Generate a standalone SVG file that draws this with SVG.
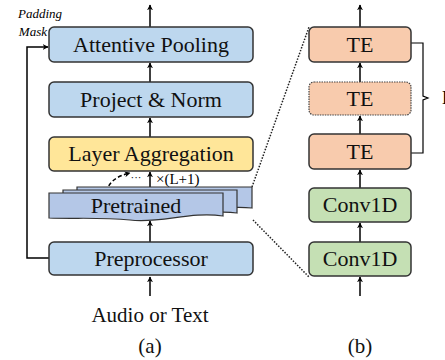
<svg xmlns="http://www.w3.org/2000/svg" width="445" height="360" viewBox="0 0 445 360">
<defs>
<style>
.box{stroke:#333;stroke-width:1.5}
.blue{fill:#bdd7ee}
.yellow{fill:#ffe699}
.pre{fill:#b4c7e7;stroke:#333;stroke-width:1.2}
.te{fill:#f8cbad}
.green{fill:#c5e0b4}
.lbl{font-family:"Liberation Serif",serif;font-size:22px;fill:#111;text-anchor:middle}
.ln{stroke:#000;stroke-width:1.5;fill:none}
.dot{stroke:#222;stroke-width:1.5;stroke-dasharray:1.5 1.5;fill:none}
</style>
<marker id="ah" viewBox="0 0 10 10" refX="9" refY="5" markerWidth="6" markerHeight="6" orient="auto-start-reverse" markerUnits="userSpaceOnUse">
<path d="M0,0 L10,5 L0,10 L3,5 z" fill="#000"/>
</marker>
</defs>
<rect width="445" height="360" fill="#fff"/>

<g id="connectors">
<line class="ln" x1="150" y1="27" x2="150" y2="5" marker-end="url(#ah)"/>
<line class="ln" x1="150" y1="82" x2="150" y2="63" marker-end="url(#ah)"/>
<line class="ln" x1="150" y1="137" x2="150" y2="118" marker-end="url(#ah)"/>
<line class="ln" x1="150" y1="187" x2="150" y2="172" marker-end="url(#ah)"/>
<line class="ln" x1="150" y1="242" x2="150" y2="221" marker-end="url(#ah)"/>
<line class="ln" x1="150" y1="296" x2="150" y2="277" marker-end="url(#ah)"/>
<polyline class="ln" points="49,258 27,258 27,47 48,47" marker-end="url(#ah)"/>
<path d="M106,192 C110,180 118,176 130,173" stroke="#000" stroke-width="1.5" stroke-dasharray="4 2.5" fill="none" marker-end="url(#ah)"/>
<line class="ln" x1="360" y1="27" x2="360" y2="5" marker-end="url(#ah)"/>
<line class="ln" x1="360" y1="82" x2="360" y2="63" marker-end="url(#ah)"/>
<line class="ln" x1="360" y1="134" x2="360" y2="116" marker-end="url(#ah)"/>
<line class="ln" x1="360" y1="188" x2="360" y2="170" marker-end="url(#ah)"/>
<line class="ln" x1="360" y1="242" x2="360" y2="223" marker-end="url(#ah)"/>
<line class="ln" x1="360" y1="296" x2="360" y2="277" marker-end="url(#ah)"/>
<line class="dot" x1="252" y1="187" x2="309" y2="27"/>
<line class="dot" x1="253" y1="220" x2="309" y2="277"/>
<path d="M411,43 H423 V96 L428,98 L423,100 V153 H411" stroke="#000" stroke-width="1.2" fill="none"/>
</g>

<g id="attentive-pooling">
<rect class="box blue" x="49" y="27" width="204" height="35" rx="5"/>
<text class="lbl" x="151" y="52">Attentive Pooling</text>
</g>
<g id="project-norm">
<rect class="box blue" x="49" y="82" width="204" height="35" rx="5"/>
<text class="lbl" x="151" y="107">Project &amp; Norm</text>
</g>
<g id="layer-aggregation">
<rect class="box yellow" x="49" y="137" width="204" height="34" rx="5"/>
<text class="lbl" x="151" y="161">Layer Aggregation</text>
</g>
<g id="pretrained">
<path class="pre" d="M77,187 H252 V208 C225,205 200,212 180,210 L77,209 Z"/>
<path class="pre" d="M63,190 H237 V213 C210,209 185,218 160,215 L63,214 Z"/>
<path class="pre" d="M49,193 H223 V216 C190,211 160,224 130,220 C100,217 75,219 49,218 Z"/>
<text class="lbl" x="136" y="213">Pretrained</text>
<text x="136" y="181" font-family="Liberation Serif,serif" font-size="11" text-anchor="middle">···</text>
<text x="156" y="184" font-family="Liberation Serif,serif" font-size="15">×(L+1)</text>
</g>
<g id="preprocessor">
<rect class="box blue" x="49" y="242" width="204" height="33" rx="5"/>
<text class="lbl" x="151" y="266">Preprocessor</text>
</g>
<g id="labels-a">
<text x="40" y="18" font-family="Liberation Serif,serif" font-size="13" font-style="italic" text-anchor="middle">Padding</text>
<text x="47" y="36" font-family="Liberation Serif,serif" font-size="13" font-style="italic" text-anchor="end">Mask</text>
<text class="lbl" x="150" y="322" style="font-size:21px">Audio or Text</text>
<text class="lbl" x="150" y="353" style="font-size:21px">(a)</text>
</g>

<g id="te-1">
<rect class="box te" x="309" y="27" width="102" height="35" rx="5"/>
<text class="lbl" x="360" y="52">TE</text>
</g>
<g id="te-2">
<rect class="te" x="309" y="82" width="102" height="33" rx="5" stroke="#444" stroke-width="1.2" stroke-dasharray="1.5 1"/>
<text class="lbl" x="360" y="106">TE</text>
</g>
<g id="te-3">
<rect class="box te" x="309" y="134" width="102" height="35" rx="5"/>
<text class="lbl" x="360" y="159">TE</text>
</g>
<g id="conv1d-1">
<rect class="box green" x="309" y="188" width="102" height="34" rx="5"/>
<text class="lbl" x="360" y="212">Conv1D</text>
</g>
<g id="conv1d-2">
<rect class="box green" x="309" y="242" width="102" height="34" rx="5"/>
<text class="lbl" x="360" y="266">Conv1D</text>
</g>
<g id="labels-b">
<text x="442" y="104" font-family="Liberation Serif,serif" font-size="18">L</text>
<text class="lbl" x="360" y="353" style="font-size:21px">(b)</text>
</g>
</svg>
